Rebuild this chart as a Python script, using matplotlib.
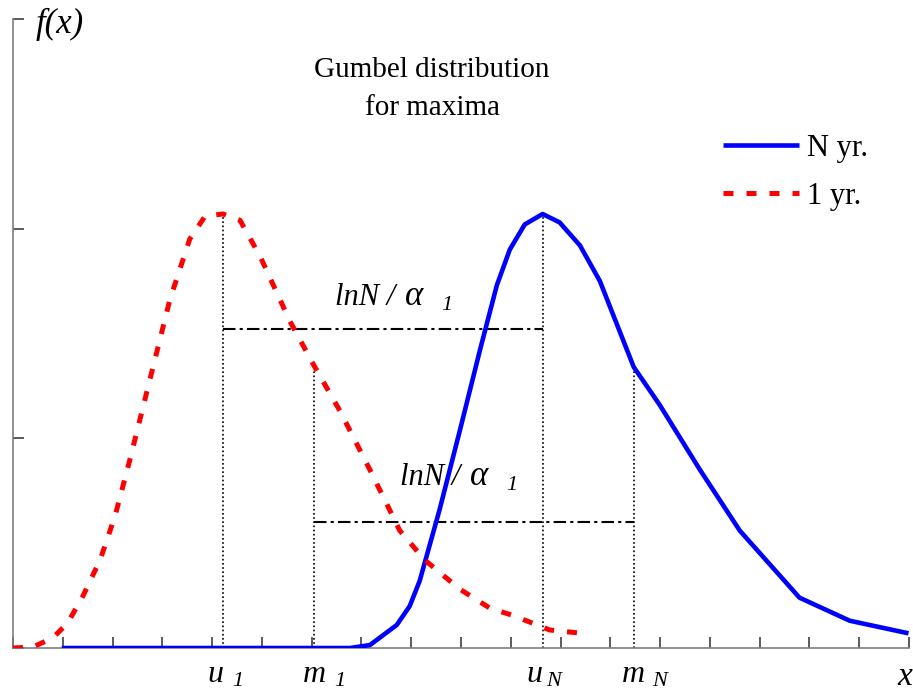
import matplotlib
matplotlib.use("Agg")
import matplotlib.pyplot as plt

# 1-year maximum density (x in axis tick units, y in axis tick units)
x_1yr = [0.0, 0.40, 0.80, 1.10, 1.41, 1.75, 2.05, 2.35, 2.75, 3.15, 3.55, 3.86, 4.22,
         4.56, 4.96, 5.56, 6.04, 6.57, 7.17, 7.77, 8.27, 8.98, 9.58, 10.02, 10.42,
         10.78, 11.35]
f_1yr = [0.0, 0.005, 0.048, 0.12, 0.25, 0.42, 0.63, 0.90, 1.28, 1.66, 1.95, 2.06, 2.07,
         2.04, 1.87, 1.56, 1.35, 1.13, 0.85, 0.56, 0.42, 0.28, 0.19, 0.157, 0.12,
         0.086, 0.072]

# N-year maximum density
x_Nyr = [0.98, 6.77, 7.17, 7.71, 7.97, 8.17, 8.57, 8.98, 9.38, 9.72, 9.98, 10.28,
         10.64, 10.98, 11.39, 11.79, 12.47, 12.99, 13.80, 14.60, 15.20, 15.80,
         16.81, 17.99]
f_Nyr = [0.0, 0.0, 0.014, 0.11, 0.20, 0.32, 0.66, 1.04, 1.42, 1.73, 1.90, 2.02,
         2.07, 2.03, 1.92, 1.75, 1.34, 1.16, 0.85, 0.56, 0.40, 0.24, 0.13, 0.07]

# characteristic points: modes u and means m
u1, m1, uN, mN = 4.22, 6.04, 10.64, 12.47
f_mode = 2.07
f_m1, f_mN = 1.34, 1.34
shift_upper, shift_lower = 1.52, 0.60

# px -> data unit factors for the fixed axes box
PX_X = 18 / 896
PX_Y = 3 / 629

plt.rcParams['font.family'] = ['Liberation Serif', 'DejaVu Serif']

fig = plt.figure(figsize=(9.13, 6.91), dpi=100)
ax = fig.add_axes([13/913, 1-648/691, (909-13)/913, (648-19)/691])
ax.set_xlim(0, 18)
ax.set_ylim(0, 3)

ax.plot(x_Nyr, f_Nyr, color='#0000ff', lw=3.3, solid_capstyle='butt', label='N yr.', zorder=3)
ax.plot(x_1yr, f_1yr, color='#ff0000', lw=3.6, linestyle=(0, (2.0, 2.6)), label='1 yr.', zorder=3)

# vertical dotted markers
for xv, yv in [(u1, f_mode), (m1, f_m1), (uN, f_mode), (mN, f_mN)]:
    ax.plot([xv, xv], [0, yv], color='black', lw=1.2, linestyle=(0, (1, 1.5)), zorder=2)

# horizontal shifts lnN/alpha
ax.plot([u1, uN], [shift_upper, shift_upper], color='black', lw=1.5,
        linestyle=(0, (6, 2, 1.5, 2)), zorder=2)
ax.plot([m1, mN], [shift_lower, shift_lower], color='black', lw=1.5,
        linestyle=(0, (6, 2, 1.5, 2)), zorder=2)

# shift annotations: "lnN / α" with a detached subscript 1
def shift_label(x_left, y_base):
    ax.text(x_left, y_base, 'lnN /', fontsize=22, style='italic', ha='left', va='baseline')
    ax.text(x_left + 70 * PX_X, y_base, 'α', fontsize=25, style='italic',
            ha='left', va='baseline')
    ax.text(x_left + 106 * PX_X, y_base - 5 * PX_Y, '1', fontsize=16, style='italic',
            ha='left', va='baseline')

shift_label((335 - 13) * PX_X, (648 - 305) * PX_Y)
shift_label((400 - 13) * PX_X, (648 - 485) * PX_Y)

# axis point labels (letter centre offset, subscript offset, in px)
def point_label(xc, letter, sub, dc, ds):
    ax.text(xc + dc * PX_X, -34 * PX_Y, letter, fontsize=23, style='italic',
            ha='center', va='baseline')
    ax.text(xc + ds * PX_X, -38 * PX_Y, sub, fontsize=16, style='italic',
            ha='left', va='baseline')

point_label(u1, 'u', '1', -8, 9)
point_label(m1, 'm', '1', 1, 21)
point_label(uN, 'u', 'N', -8, 4)
point_label(mN, 'm', 'N', 0, 18)

ax.text((905 - 13) * PX_X, -37 * PX_Y, 'x', fontsize=24, style='italic',
        ha='center', va='baseline')
ax.text((36 - 13) * PX_X, (648 - 33) * PX_Y, 'f(x)', fontsize=25, style='italic',
        ha='left', va='baseline')

ax.text((432 - 13) * PX_X, (648 - 77) * PX_Y, 'Gumbel distribution', fontsize=21,
        ha='center', va='baseline')
ax.text((432 - 13) * PX_X, (648 - 115) * PX_Y, 'for maxima', fontsize=21,
        ha='center', va='baseline')

leg = ax.legend(loc='upper left', bbox_to_anchor=((723 - 13) / 896, (648 - 134) / 629),
                frameon=False, fontsize=22, handlelength=2.5, handletextpad=0.25,
                labelspacing=0.62, borderaxespad=0, borderpad=0)

for s in ['top', 'right']:
    ax.spines[s].set_visible(False)
for s in ['left', 'bottom']:
    ax.spines[s].set_color('#7f7f7f')
    ax.spines[s].set_linewidth(1.2)

ax.set_xticks(range(0, 19))
ax.set_yticks([0, 1, 2, 3])
ax.tick_params(direction='in', length=8, width=1.2, color='#404040',
               labelbottom=False, labelleft=False)

fig.savefig('out.png', dpi=100)
